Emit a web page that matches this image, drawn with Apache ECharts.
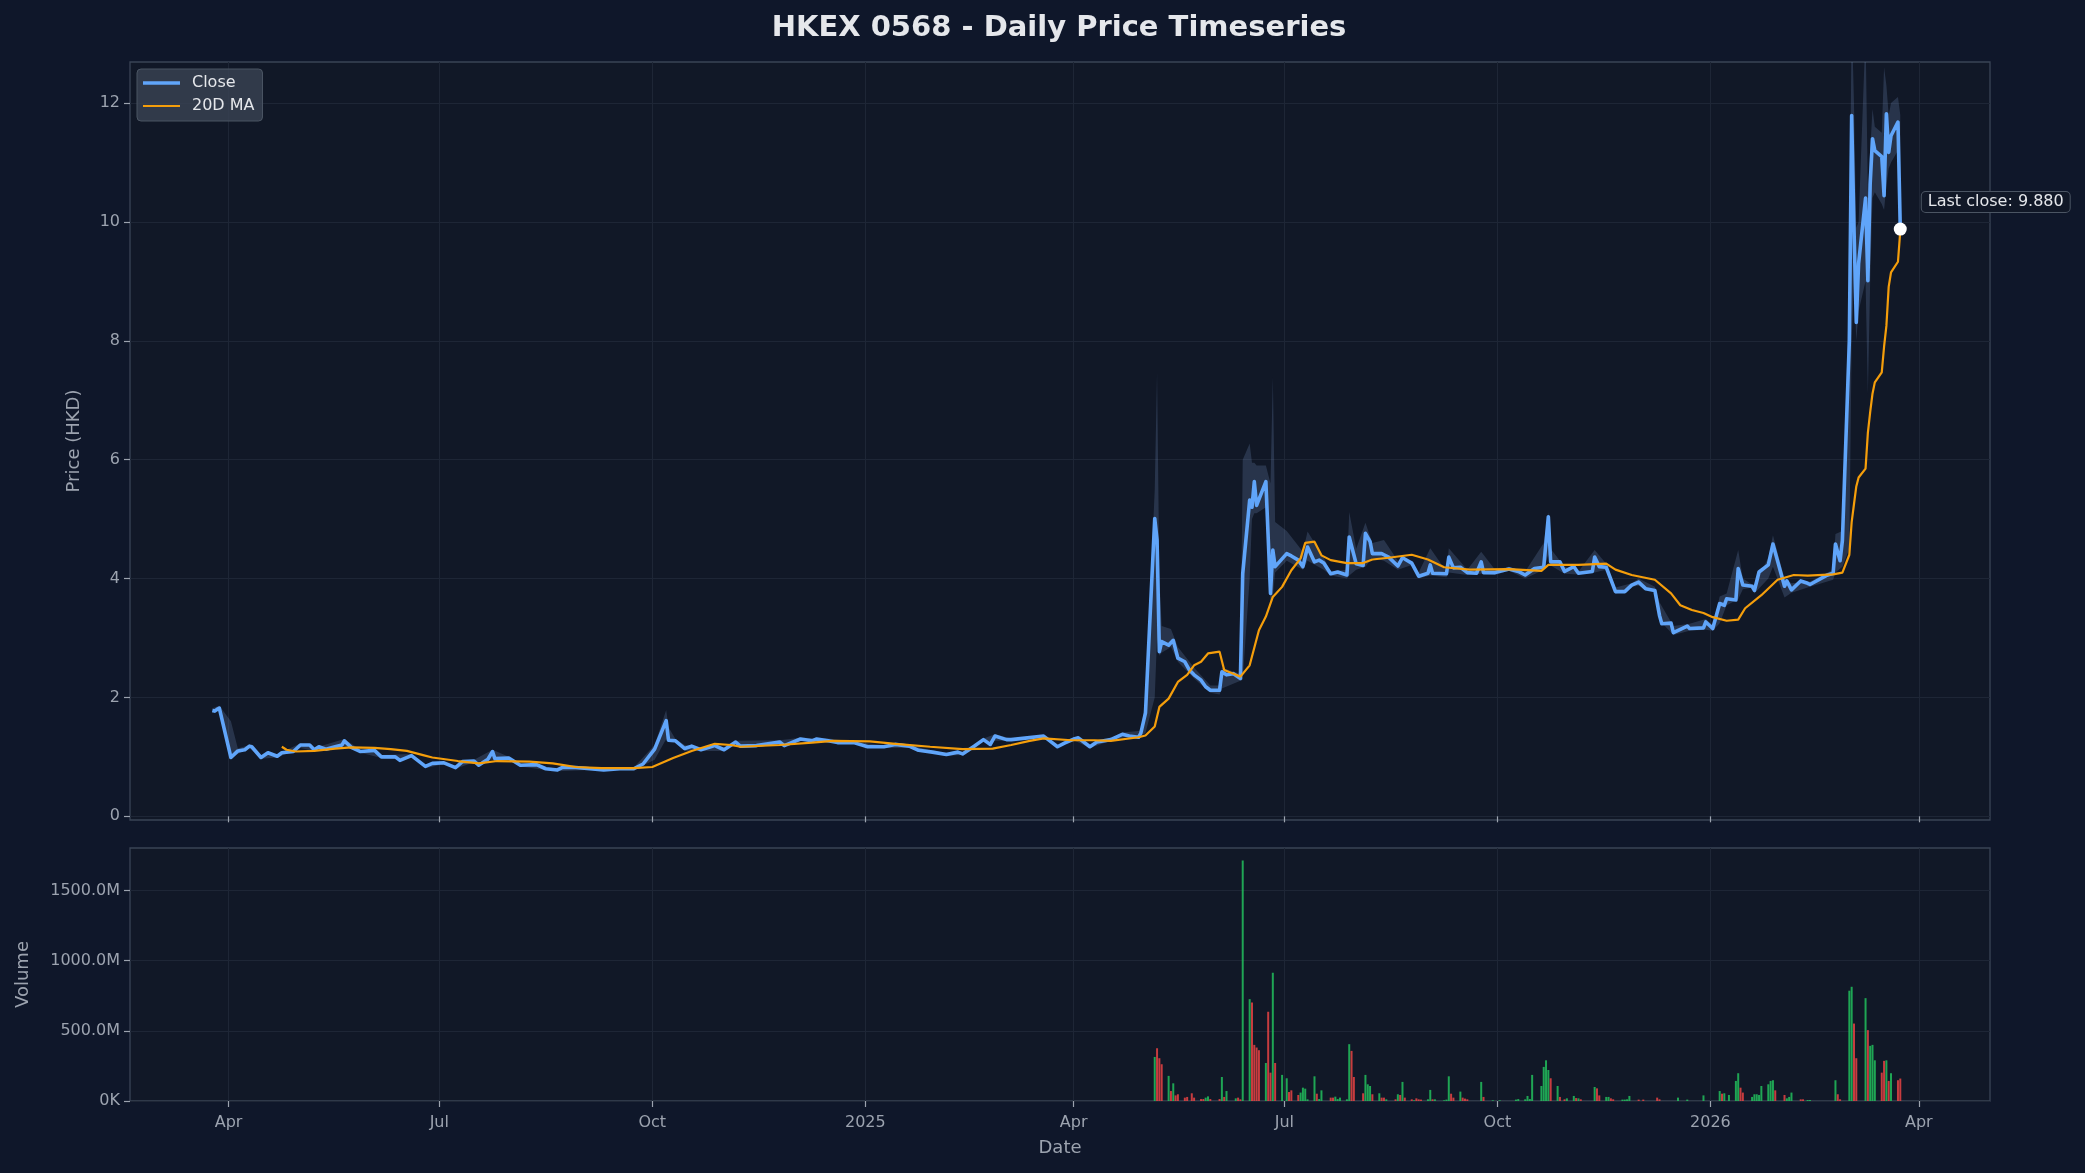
<!DOCTYPE html>
<html>
<head>
<meta charset="utf-8">
<script src="https://cdn.jsdelivr.net/npm/echarts@6/dist/echarts.min.js"></script>
<style>
html,body{margin:0;padding:0;background:#0f172a;}
#chart{width:2085px;height:1173px;}
</style>
</head>
<body>
<div id="chart"></div>
<script>
const chartTitle = 'HKEX 0568 - Daily Price Timeseries';

const closeDates = [
'2024-03-25','2024-03-26','2024-03-27','2024-03-28','2024-04-02','2024-04-05','2024-04-08','2024-04-10','2024-04-11','2024-04-15',
'2024-04-18','2024-04-22','2024-04-24','2024-04-29','2024-05-02','2024-05-06','2024-05-08','2024-05-10','2024-05-13','2024-05-17',
'2024-05-20','2024-05-21','2024-05-24','2024-05-28','2024-06-03','2024-06-06','2024-06-12','2024-06-14','2024-06-19','2024-06-25',
'2024-06-28','2024-07-03','2024-07-08','2024-07-11','2024-07-16','2024-07-18','2024-07-22','2024-07-24','2024-07-25','2024-07-31',
'2024-08-05','2024-08-12','2024-08-16','2024-08-21','2024-08-23','2024-08-29','2024-09-04','2024-09-10','2024-09-17','2024-09-23',
'2024-09-27','2024-10-02','2024-10-07','2024-10-08','2024-10-11','2024-10-15','2024-10-18','2024-10-22','2024-10-28','2024-11-01',
'2024-11-06','2024-11-08','2024-11-15','2024-11-25','2024-11-27','2024-12-04','2024-12-09','2024-12-11','2024-12-16','2024-12-20',
'2024-12-27','2025-01-02','2025-01-09','2025-01-14','2025-01-20','2025-01-24','2025-01-30','2025-02-05','2025-02-10','2025-02-12',
'2025-02-17','2025-02-21','2025-02-24','2025-02-26','2025-03-03','2025-03-05','2025-03-12','2025-03-19','2025-03-21','2025-03-25',
'2025-03-28','2025-04-01','2025-04-03','2025-04-08','2025-04-11','2025-04-17','2025-04-22','2025-04-25','2025-04-29','2025-04-30',
'2025-05-02','2025-05-06','2025-05-07','2025-05-08','2025-05-09','2025-05-12','2025-05-14','2025-05-16','2025-05-19','2025-05-21',
'2025-05-23','2025-05-26','2025-05-28','2025-05-30','2025-06-03','2025-06-04','2025-06-06','2025-06-09','2025-06-12','2025-06-13',
'2025-06-16','2025-06-17','2025-06-18','2025-06-19','2025-06-23','2025-06-25','2025-06-26','2025-06-27','2025-07-02','2025-07-04',
'2025-07-07','2025-07-09','2025-07-11','2025-07-14','2025-07-16','2025-07-18','2025-07-21','2025-07-24','2025-07-28','2025-07-29',
'2025-08-01','2025-08-04','2025-08-05','2025-08-07','2025-08-08','2025-08-12','2025-08-13','2025-08-15','2025-08-19','2025-08-21',
'2025-08-25','2025-08-28','2025-09-01','2025-09-02','2025-09-03','2025-09-09','2025-09-10','2025-09-12','2025-09-15','2025-09-18',
'2025-09-22','2025-09-24','2025-09-25','2025-09-30','2025-10-06','2025-10-10','2025-10-13','2025-10-17','2025-10-21','2025-10-23',
'2025-10-24','2025-10-28','2025-10-30','2025-11-03','2025-11-05','2025-11-11','2025-11-12','2025-11-14','2025-11-17','2025-11-21',
'2025-11-25','2025-11-28','2025-12-01','2025-12-04','2025-12-08','2025-12-10','2025-12-11','2025-12-15','2025-12-16','2025-12-22',
'2025-12-23','2025-12-29','2025-12-30','2026-01-02','2026-01-05','2026-01-07','2026-01-08','2026-01-12','2026-01-13','2026-01-15',
'2026-01-19','2026-01-20','2026-01-22','2026-01-26','2026-01-28','2026-02-02','2026-02-03','2026-02-05','2026-02-09','2026-02-12',
'2026-02-13','2026-02-20','2026-02-23','2026-02-24','2026-02-26','2026-02-27','2026-03-02','2026-03-03','2026-03-04','2026-03-05',
'2026-03-06','2026-03-09','2026-03-10','2026-03-11','2026-03-12','2026-03-13','2026-03-16','2026-03-17','2026-03-18','2026-03-19',
'2026-03-20','2026-03-23','2026-03-24'
];
const closeValues = [
1.78,1.77,1.80,1.82,0.99,1.10,1.12,1.18,1.17,0.99,
1.07,1.01,1.07,1.09,1.20,1.20,1.12,1.17,1.13,1.17,
1.20,1.27,1.16,1.09,1.11,1.00,1.00,0.94,1.02,0.84,
0.89,0.90,0.82,0.92,0.93,0.86,0.96,1.09,0.97,0.98,
0.86,0.87,0.80,0.78,0.82,0.82,0.80,0.78,0.80,0.80,
0.88,1.13,1.61,1.28,1.27,1.14,1.18,1.12,1.19,1.12,
1.25,1.18,1.19,1.25,1.19,1.30,1.27,1.30,1.27,1.24,
1.24,1.17,1.17,1.21,1.18,1.11,1.08,1.04,1.08,1.05,
1.18,1.29,1.21,1.35,1.29,1.29,1.32,1.35,1.29,1.17,
1.23,1.30,1.32,1.17,1.25,1.29,1.38,1.35,1.33,1.40,
1.74,5.01,4.65,2.77,2.94,2.88,2.96,2.66,2.60,2.46,
2.38,2.29,2.18,2.12,2.12,2.43,2.38,2.40,2.32,4.08,
5.32,5.20,5.63,5.23,5.63,3.75,4.48,4.20,4.42,4.38,
4.31,4.20,4.53,4.28,4.31,4.26,4.08,4.11,4.06,4.70,
4.25,4.22,4.76,4.62,4.42,4.42,4.40,4.36,4.21,4.35,
4.26,4.04,4.09,4.23,4.09,4.08,4.36,4.18,4.19,4.10,
4.09,4.28,4.10,4.10,4.16,4.12,4.06,4.17,4.19,5.04,
4.28,4.28,4.12,4.20,4.09,4.12,4.36,4.20,4.19,3.78,
3.78,3.89,3.94,3.83,3.80,3.38,3.24,3.25,3.09,3.20,
3.16,3.17,3.27,3.16,3.58,3.55,3.66,3.64,4.17,3.89,
3.87,3.80,4.11,4.23,4.58,3.87,3.96,3.81,3.96,3.92,
3.90,4.05,4.09,4.58,4.30,4.64,8.00,11.79,9.90,8.31,
9.30,10.40,9.01,10.64,11.40,11.20,11.10,10.44,11.82,11.17,
11.45,11.68,9.88
];

const maDates = [
'2024-04-24','2024-04-26','2024-04-30','2024-05-08','2024-05-17','2024-05-24','2024-06-03','2024-06-10','2024-06-17','2024-06-24',
'2024-06-28','2024-07-09','2024-07-18','2024-07-26','2024-08-09','2024-08-19','2024-08-29','2024-09-09','2024-09-23','2024-10-01',
'2024-10-04','2024-10-10','2024-10-18','2024-10-28','2024-11-04','2024-11-08','2024-11-25','2024-12-09','2024-12-18','2025-01-03',
'2025-01-14','2025-01-29','2025-02-12','2025-02-25','2025-03-05','2025-03-13','2025-03-19','2025-03-31','2025-04-10','2025-04-17',
'2025-04-29','2025-05-02','2025-05-06','2025-05-08','2025-05-12','2025-05-16','2025-05-20','2025-05-23','2025-05-26','2025-05-29',
'2025-06-03','2025-06-05','2025-06-09','2025-06-12','2025-06-16','2025-06-20','2025-06-23','2025-06-26','2025-06-30','2025-07-04',
'2025-07-08','2025-07-10','2025-07-14','2025-07-17','2025-07-21','2025-07-28','2025-08-04','2025-08-08','2025-08-15','2025-08-25',
'2025-09-01','2025-09-08','2025-09-19','2025-10-06','2025-10-20','2025-10-23','2025-11-05','2025-11-17','2025-11-21','2025-11-28',
'2025-12-08','2025-12-15','2025-12-19','2025-12-24','2025-12-29','2026-01-02','2026-01-08','2026-01-13','2026-01-16','2026-01-23',
'2026-01-30','2026-02-06','2026-02-12','2026-02-23','2026-02-27','2026-03-02','2026-03-03','2026-03-04','2026-03-05','2026-03-06',
'2026-03-09','2026-03-10','2026-03-11','2026-03-12','2026-03-13','2026-03-16','2026-03-17','2026-03-18','2026-03-19','2026-03-20',
'2026-03-23','2026-03-24'
];
const maValues = [
1.17,1.12,1.09,1.10,1.14,1.16,1.15,1.13,1.10,1.03,
0.99,0.93,0.89,0.93,0.92,0.89,0.83,0.81,0.81,0.83,
0.88,0.98,1.10,1.22,1.20,1.17,1.20,1.24,1.27,1.26,
1.22,1.17,1.13,1.14,1.20,1.27,1.31,1.28,1.28,1.27,
1.33,1.36,1.51,1.84,1.98,2.26,2.38,2.54,2.60,2.74,
2.77,2.46,2.40,2.35,2.54,3.13,3.36,3.69,3.86,4.14,
4.34,4.60,4.62,4.39,4.31,4.26,4.26,4.32,4.35,4.40,
4.32,4.19,4.15,4.16,4.13,4.23,4.23,4.25,4.15,4.06,
3.98,3.75,3.55,3.47,3.42,3.35,3.29,3.31,3.50,3.72,
3.98,4.06,4.05,4.07,4.10,4.40,4.95,5.25,5.55,5.70,
5.85,6.45,6.80,7.11,7.30,7.47,7.90,8.25,8.91,9.15,
9.33,9.85
];

const bandDates = [
'2024-03-25','2024-03-28','2024-04-02','2024-04-05','2024-04-10','2024-04-15','2024-04-22','2024-05-02','2024-05-08','2024-05-21',
'2024-05-28','2024-06-06','2024-06-12','2024-06-19','2024-06-25','2024-07-03','2024-07-08','2024-07-16','2024-07-24','2024-07-31',
'2024-08-05','2024-08-16','2024-08-21','2024-09-04','2024-09-23','2024-10-02','2024-10-07','2024-10-08','2024-10-11','2024-10-15',
'2024-10-22','2024-11-01','2024-11-06','2024-11-25','2024-12-04','2024-12-16','2024-12-27','2025-01-09','2025-01-20','2025-01-30',
'2025-02-05','2025-02-12','2025-02-21','2025-02-26','2025-03-05','2025-03-19','2025-03-25','2025-04-01','2025-04-08','2025-04-17',
'2025-04-22','2025-04-30','2025-05-02','2025-05-06','2025-05-07','2025-05-08','2025-05-09','2025-05-13','2025-05-16','2025-05-23',
'2025-05-30','2025-06-03','2025-06-04','2025-06-12','2025-06-13','2025-06-16','2025-06-17','2025-06-18','2025-06-19','2025-06-23',
'2025-06-25','2025-06-26','2025-06-27','2025-07-02','2025-07-09','2025-07-11','2025-07-18','2025-07-21','2025-07-28','2025-07-29',
'2025-08-01','2025-08-05','2025-08-08','2025-08-13','2025-08-19','2025-08-25','2025-08-28','2025-09-02','2025-09-09','2025-09-10',
'2025-09-18','2025-09-24','2025-09-30','2025-10-06','2025-10-13','2025-10-21','2025-10-23','2025-10-24','2025-10-30','2025-11-05',
'2025-11-12','2025-11-17','2025-11-21','2025-11-28','2025-12-01','2025-12-08','2025-12-10','2025-12-16','2025-12-23','2025-12-30',
'2026-01-02','2026-01-05','2026-01-08','2026-01-13','2026-01-15','2026-01-19','2026-01-20','2026-01-26','2026-01-28','2026-02-02',
'2026-02-05','2026-02-13','2026-02-23','2026-02-24','2026-02-27','2026-03-02','2026-03-03','2026-03-04','2026-03-05','2026-03-06',
'2026-03-09','2026-03-10','2026-03-11','2026-03-12','2026-03-13','2026-03-16','2026-03-17','2026-03-18','2026-03-19','2026-03-20',
'2026-03-23','2026-03-24'
];
const bandLow = [
1.74,1.77,0.97,1.05,1.15,0.97,0.99,1.15,1.10,1.18,
1.07,0.98,0.97,1.00,0.81,0.88,0.80,0.91,0.95,0.96,
0.84,0.78,0.76,0.78,0.78,0.95,1.30,1.25,1.24,1.10,
1.10,1.10,1.20,1.18,1.27,1.24,1.22,1.15,1.15,1.06,
1.02,1.03,1.25,1.27,1.27,1.32,1.15,1.28,1.15,1.27,
1.32,1.36,1.40,2.00,3.00,2.70,2.75,2.85,2.60,2.32,
2.08,2.05,2.15,2.28,2.30,4.00,5.00,5.10,5.10,5.20,
3.60,3.70,4.10,4.30,4.15,4.30,4.15,4.05,4.00,4.05,
4.15,4.20,4.35,4.30,4.15,4.23,4.00,4.05,4.02,4.10,
4.06,4.08,4.06,4.13,4.00,4.15,4.40,4.22,4.08,4.07,
4.10,4.15,3.74,3.86,3.88,3.76,3.30,3.05,3.12,3.14,
3.12,3.25,3.55,3.65,3.82,3.85,3.75,4.00,4.20,3.68,
3.76,3.86,3.98,4.10,4.20,4.50,8.00,9.00,8.00,8.50,
9.00,7.10,9.00,10.40,10.50,10.30,10.20,10.60,10.90,11.00,
11.20,9.80
];
const bandHigh = [
1.82,1.86,1.60,1.14,1.20,1.03,1.04,1.23,1.15,1.30,
1.12,1.03,1.04,1.05,0.87,0.92,0.85,0.95,1.12,1.00,
0.88,0.82,0.81,0.82,0.82,1.20,1.79,1.50,1.30,1.20,
1.15,1.15,1.27,1.28,1.32,1.31,1.26,1.19,1.21,1.10,
1.07,1.07,1.31,1.38,1.31,1.37,1.20,1.33,1.20,1.31,
1.41,1.44,1.95,5.50,7.47,4.00,3.20,3.15,2.85,2.50,
2.20,2.20,2.50,2.40,6.00,6.27,5.95,5.95,5.90,5.90,
5.60,7.39,4.95,4.80,4.45,4.79,4.35,4.12,4.15,5.12,
4.50,4.94,4.60,4.65,4.30,4.30,4.10,4.51,4.12,4.51,
4.15,4.45,4.15,4.20,4.12,4.60,5.12,4.50,4.20,4.12,
4.48,4.25,3.85,3.92,4.00,3.86,3.60,3.20,3.24,3.32,
3.22,3.70,3.75,4.48,4.00,3.90,3.90,4.35,4.73,4.00,
3.92,3.95,4.15,4.75,4.80,9.00,13.50,12.00,9.90,10.00,
13.20,10.50,11.20,11.90,11.60,11.50,12.60,12.30,11.80,12.00,
12.10,11.80
];

const volDates = [
'2025-05-06','2025-05-07','2025-05-08','2025-05-09','2025-05-12','2025-05-13','2025-05-14','2025-05-15','2025-05-16','2025-05-19',
'2025-05-20','2025-05-22','2025-05-23','2025-05-26','2025-05-27','2025-05-28','2025-05-29','2025-05-30','2025-06-03','2025-06-04',
'2025-06-05','2025-06-06','2025-06-10','2025-06-11','2025-06-12','2025-06-13','2025-06-16','2025-06-17','2025-06-18','2025-06-19',
'2025-06-20','2025-06-23','2025-06-24','2025-06-25','2025-06-26','2025-06-27','2025-06-30','2025-07-02','2025-07-03','2025-07-04',
'2025-07-07','2025-07-08','2025-07-09','2025-07-10','2025-07-11','2025-07-14','2025-07-15','2025-07-16','2025-07-17','2025-07-21',
'2025-07-22','2025-07-23','2025-07-24','2025-07-25','2025-07-28','2025-07-29','2025-07-30','2025-07-31','2025-08-04','2025-08-05',
'2025-08-06','2025-08-07','2025-08-08','2025-08-11','2025-08-12','2025-08-13','2025-08-14','2025-08-18','2025-08-19','2025-08-20',
'2025-08-21','2025-08-22','2025-08-25','2025-08-26','2025-08-27','2025-08-28','2025-08-29','2025-09-01','2025-09-02','2025-09-03',
'2025-09-04','2025-09-08','2025-09-09','2025-09-10','2025-09-11','2025-09-12','2025-09-15','2025-09-16','2025-09-17','2025-09-18',
'2025-09-24','2025-09-25','2025-09-29','2025-10-02','2025-10-09','2025-10-10','2025-10-13','2025-10-14','2025-10-15','2025-10-16',
'2025-10-20','2025-10-21','2025-10-22','2025-10-23','2025-10-24','2025-10-27','2025-10-28','2025-10-30','2025-10-31','2025-11-03',
'2025-11-04','2025-11-05','2025-11-06','2025-11-12','2025-11-13','2025-11-14','2025-11-17','2025-11-18','2025-11-19','2025-11-20',
'2025-11-24','2025-11-25','2025-11-26','2025-11-27','2025-12-01','2025-12-03','2025-12-09','2025-12-10','2025-12-18','2025-12-22',
'2025-12-29','2026-01-05','2026-01-06','2026-01-07','2026-01-09','2026-01-12','2026-01-13','2026-01-14','2026-01-15','2026-01-19',
'2026-01-20','2026-01-21','2026-01-22','2026-01-23','2026-01-26','2026-01-27','2026-01-28','2026-01-29','2026-02-02','2026-02-03',
'2026-02-04','2026-02-05','2026-02-09','2026-02-10','2026-02-12','2026-02-13','2026-02-24','2026-02-25','2026-02-26','2026-03-02',
'2026-03-03','2026-03-04','2026-03-05','2026-03-09','2026-03-10','2026-03-11','2026-03-12','2026-03-13','2026-03-16','2026-03-17',
'2026-03-18','2026-03-19','2026-03-20','2026-03-23','2026-03-24'
];
// volume in millions of shares
const volValues = [
314,376,305,262,179,71,126,40,48,24,
29,55,24,14,14,24,33,14,14,171,
29,71,19,24,12,1714,726,702,400,381,
362,271,636,202,914,271,186,162,64,76,
43,60,95,88,12,176,52,14,76,24,
24,31,14,24,12,405,357,171,55,186,
119,107,48,55,24,24,12,12,48,43,
136,24,12,5,19,12,10,12,79,12,
12,5,10,176,52,24,67,24,17,12,
136,29,5,5,10,14,12,36,14,186,
107,243,290,221,162,107,29,12,19,36,
21,19,12,100,90,40,29,29,19,12,
10,10,12,36,10,10,24,12,24,10,
40,71,52,55,43,143,198,95,60,29,
48,48,43,107,119,143,148,76,43,19,
29,60,12,12,7,7,148,48,12,786,
814,552,305,733,505,393,400,290,202,286,
290,143,198,148,160
];
// 1 = close >= open (green), 0 = close < open (red)
const volUp = [
1,0,0,0,1,0,1,0,0,0,
0,0,0,0,0,1,1,0,0,1,
0,1,1,0,0,1,1,0,0,0,
0,1,0,0,1,0,1,1,0,0,
0,1,1,1,1,1,0,1,1,0,
0,1,1,1,1,1,0,0,0,1,
1,1,0,1,0,0,1,0,1,0,
1,0,0,1,0,0,0,1,1,0,
1,1,1,1,0,0,1,0,0,0,
1,0,1,1,1,1,1,1,1,1,
1,1,1,1,0,1,0,0,1,1,
0,1,0,1,0,0,1,1,0,0,
1,1,1,1,0,0,0,0,1,1,
1,1,0,1,1,1,1,0,0,1,
1,1,1,1,1,1,1,0,0,1,
1,1,0,0,1,1,1,0,0,1,
1,0,0,1,0,1,1,1,0,0,
1,0,1,0,0
];

const xTickDates = ['2024-04-01','2024-07-01','2024-10-01','2025-01-01','2025-04-01','2025-07-01','2025-10-01','2026-01-01','2026-04-01'];
const xTickLabels = ['Apr','Jul','Oct','2025','Apr','Jul','Oct','2026','Apr'];
const priceTicks = [0,2,4,6,8,10,12];
const volTicks = [0,500e6,1000e6,1500e6];

const FONT = 'DejaVu Sans';
const TXT = '#9ca3af';
const GRIDLINE = '#1e2636';
const BORDER = '#3a4456';
const BAND = 'rgba(125,155,205,0.22)';

const ts = s => new Date(s).getTime();
const day = d => ts(d + 'T00:00:00');
const xTickTimes = xTickDates.map(day);

const closeData = closeDates.map((d, i) => [day(d), closeValues[i]]);
const maData = maDates.map((d, i) => [day(d), maValues[i]]);
const bandData = bandDates.map((d, i) => [day(d), bandLow[i], bandHigh[i]]);
const volData = volDates.map((d, i) => ({
  value: [day(d), volValues[i] * 1e6],
  itemStyle: { color: volUp[i] ? 'rgba(34,197,94,0.82)' : 'rgba(239,68,68,0.82)' }
}));
const lastIdx = closeDates.length - 1;

const xMin = ts('2024-02-18T10:00:00');
const xMax = ts('2026-05-01T18:00:00');

function xLabel(v) {
  let best = 0;
  for (let j = 1; j < xTickTimes.length; j++) if (Math.abs(xTickTimes[j] - v) < Math.abs(xTickTimes[best] - v)) best = j;
  return xTickLabels[best];
}

function xAxisCommon(gridIndex, showLabels) {
  return {
    type: 'value', gridIndex: gridIndex, min: xMin, max: xMax, scale: true,
    axisLine: { show: false },
    axisTick: { show: true, customValues: xTickTimes, length: 6, lineStyle: { color: TXT, width: 1.2 } },
    axisLabel: {
      show: showLabels, customValues: xTickTimes, color: TXT, fontFamily: FONT, fontSize: 16, margin: 14,
      formatter: xLabel
    },
    splitLine: { show: true, lineStyle: { color: GRIDLINE, width: 1 } }
  };
}

const chart = echarts.init(document.getElementById('chart'), null, { renderer: 'canvas' });
const option = {
  backgroundColor: '#0f172a',
  animation: false,
  textStyle: { fontFamily: FONT },
  title: {
    text: chartTitle, left: 1054, top: 9, textAlign: 'center',
    textStyle: { color: '#e5e7eb', fontFamily: FONT, fontSize: 29, fontWeight: 'bold' }
  },
  legend: {
    data: [
      { name: 'Close', icon: 'path://M0,0h37v3.6h-37z' },
      { name: '20D MA', icon: 'path://M0,0h37v2.2h-37z' }
    ],
    orient: 'vertical', left: 137, top: 69,
    backgroundColor: 'rgba(55,65,81,0.85)', borderColor: '#4b5563', borderWidth: 1, borderRadius: 4,
    padding: [5, 8, 6, 6], itemGap: 5, itemWidth: 37, itemHeight: 14,
    textStyle: { color: '#e5e7eb', fontFamily: FONT, fontSize: 16, lineHeight: 18, padding: [0, 0, 0, 7] }
  },
  grid: [
    { left: 130, right: 95, top: 62, height: 758, show: true, backgroundColor: '#111827', borderColor: BORDER, borderWidth: 1.3 },
    { left: 130, right: 95, top: 848, height: 253, show: true, backgroundColor: '#111827', borderColor: BORDER, borderWidth: 1.3 }
  ],
  xAxis: [
    xAxisCommon(0, false),
    Object.assign(xAxisCommon(1, true), {
      name: 'Date', nameLocation: 'middle', nameGap: 38,
      nameTextStyle: { color: TXT, fontFamily: FONT, fontSize: 18 }
    })
  ],
  yAxis: [
    {
      type: 'value', gridIndex: 0, min: -0.062, max: 12.69,
      name: 'Price (HKD)', nameLocation: 'middle', nameGap: 47, nameRotate: 90,
      nameTextStyle: { color: TXT, fontFamily: FONT, fontSize: 18 },
      axisLine: { show: false },
      axisTick: { show: true, customValues: priceTicks, length: 6, lineStyle: { color: TXT, width: 1.2 } },
      axisLabel: { customValues: priceTicks, color: TXT, fontFamily: FONT, fontSize: 16, margin: 10, formatter: v => String(v) },
      splitLine: { show: true, lineStyle: { color: GRIDLINE, width: 1 } }
    },
    {
      type: 'value', gridIndex: 1, min: 0, max: 1803e6,
      name: 'Volume', nameLocation: 'middle', nameGap: 98, nameRotate: 90,
      nameTextStyle: { color: TXT, fontFamily: FONT, fontSize: 18 },
      axisLine: { show: false },
      axisTick: { show: true, customValues: volTicks, length: 6, lineStyle: { color: TXT, width: 1.2 } },
      axisLabel: {
        customValues: volTicks, color: TXT, fontFamily: FONT, fontSize: 16, margin: 10,
        formatter: v => (v === 0 ? '0K' : (v / 1e6).toFixed(1) + 'M')
      },
      splitLine: { show: true, lineStyle: { color: GRIDLINE, width: 1 } }
    }
  ],
  series: [
    {
      name: 'High/Low', type: 'custom', xAxisIndex: 0, yAxisIndex: 0, silent: true, z: 1,
      data: bandData,
      encode: { x: 0, y: [1, 2] },
      renderItem: function (params, api) {
        if (params.dataIndex !== 0) return null;
        const top = [], bot = [];
        for (let i = 0; i < bandData.length; i++) {
          top.push(api.coord([bandData[i][0], bandData[i][2]]));
          bot.push(api.coord([bandData[i][0], bandData[i][1]]));
        }
        const cs = params.coordSys;
        return {
          type: 'polygon',
          shape: { points: top.concat(bot.reverse()) },
          style: { fill: BAND },
          clipPath: { type: 'rect', shape: { x: cs.x, y: cs.y, width: cs.width, height: cs.height } }
        };
      }
    },
    {
      name: 'Close', type: 'line', xAxisIndex: 0, yAxisIndex: 0,
      data: closeData, symbol: 'none', color: '#60a5fa',
      lineStyle: { color: '#60a5fa', width: 3.6, join: 'round' }, z: 3,
      markPoint: {
        symbol: 'circle', symbolSize: 13,
        itemStyle: { color: '#ffffff' },
        data: [{
          coord: [day(closeDates[lastIdx]), closeValues[lastIdx]],
          label: {
            show: true, position: 'right', distance: 5, offset: [10, -27],
            formatter: 'Last close: ' + closeValues[lastIdx].toFixed(3),
            color: '#e5e7eb', fontFamily: FONT, fontSize: 16,
            backgroundColor: '#111827', borderColor: '#4b5563', borderWidth: 1, borderRadius: 4,
            padding: [2, 6]
          }
        }]
      }
    },
    {
      name: '20D MA', type: 'line', xAxisIndex: 0, yAxisIndex: 0,
      data: maData, symbol: 'none', color: '#f59e0b',
      lineStyle: { color: '#f59e0b', width: 2.2 }, z: 4
    },
    {
      name: 'Volume', type: 'bar', xAxisIndex: 1, yAxisIndex: 1,
      data: volData, barWidth: 2, z: 2
    }
  ]
};
chart.setOption(option);
</script>
</body>
</html>
